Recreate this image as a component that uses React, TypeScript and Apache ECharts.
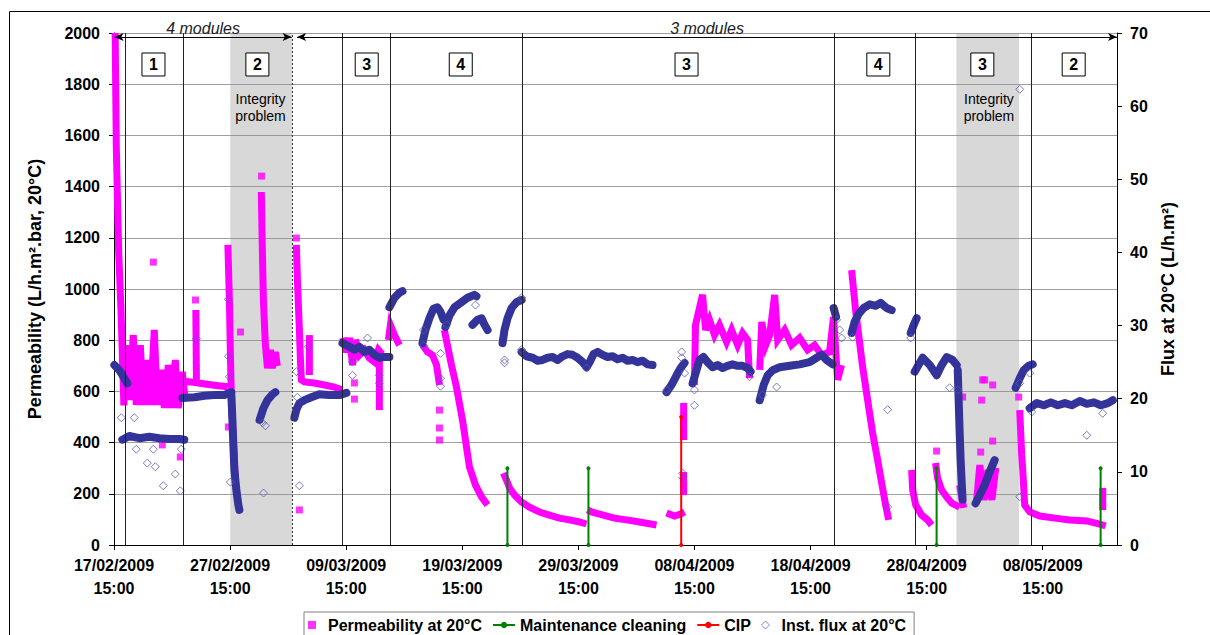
import React, { useEffect, useRef } from 'react';
import * as echarts from 'echarts';

// x values are days since 17/02/2009 15:00
const xTickLabels = [
  '17/02/2009\n15:00', '27/02/2009\n15:00', '09/03/2009\n15:00', '19/03/2009\n15:00',
  '29/03/2009\n15:00', '08/04/2009\n15:00', '18/04/2009\n15:00', '28/04/2009\n15:00', '08/05/2009\n15:00',
];
const xMaxDays = 86.4;

// Permeability at 20°C — dense runs of logged points (day, L/h.m².bar)
const permRuns: number[][][] = [
  [[0.1, 2000], [0.2, 1550], [0.4, 1150], [0.6, 920], [0.75, 700], [0.85, 545], [1.06, 781], [1.32, 566], [1.66, 820], [1.92, 547], [2.27, 781], [2.52, 547], [2.87, 723], [3.13, 547], [3.47, 840], [3.73, 547], [4.08, 684], [4.34, 535], [4.68, 703], [4.94, 535], [5.28, 723], [5.54, 535], [5.88, 676], [6.14, 566]],
  [[6.0, 640], [7.0, 635], [8.0, 628], [9.0, 622], [9.8, 618]],
  [[7.05, 918], [7.1, 645]],
  [[9.81, 1172], [9.94, 957], [10.02, 762], [10.11, 566], [10.28, 410], [10.45, 254]],
  [[12.69, 1379], [12.78, 1152], [12.87, 957], [13.04, 781], [13.22, 691], [13.48, 762], [13.64, 691], [13.9, 754], [14.07, 699]],
  [[15.71, 1172], [15.8, 1035], [15.97, 840], [16.06, 723], [16.14, 645], [16.4, 637], [17.26, 633], [18.12, 625], [18.98, 617], [19.67, 605]],
  [[16.83, 820], [16.83, 664]],
  [[19.7, 809], [20.04, 754], [20.3, 809], [20.55, 703], [20.81, 801], [21.14, 742], [21.57, 762], [22.0, 730], [22.43, 715], [22.78, 762], [23.1, 745]],
  [[22.86, 723], [22.86, 527]],
  [[23.64, 801], [23.81, 859], [24.16, 820], [24.59, 781]],
  [[26.57, 781], [27.0, 754], [27.43, 742], [27.78, 703], [28.04, 625]],
  [[28.46, 840], [28.72, 781], [29.07, 703], [29.5, 617], [30.02, 488], [30.62, 305], [31.14, 234], [31.66, 188], [32.17, 156]],
  [[33.55, 281], [33.81, 254], [34.07, 223], [34.5, 195], [35.1, 168], [35.79, 148], [36.65, 129], [37.51, 117], [38.37, 105], [39.24, 98], [40.1, 90], [40.7, 82]],
  [[40.79, 137], [41.13, 129], [41.82, 121], [43.11, 105], [44.15, 98], [45.27, 90], [46.73, 78]],
  [[47.6, 125], [48.29, 113], [48.8, 121], [49.15, 129]],
  [[49.07, 555], [49.07, 410]],
  [[49.07, 285], [49.07, 195]],
  [[50.0, 625], [50.09, 859], [50.7, 977], [50.96, 840], [51.3, 879], [51.73, 820], [52.16, 859], [52.77, 793], [53.2, 840], [53.72, 781], [54.15, 828], [54.58, 801], [54.75, 652]],
  [[55.62, 684], [55.8, 871], [56.14, 781], [56.48, 820], [56.91, 977], [57.17, 801], [57.77, 840], [58.37, 781], [59.06, 809], [59.75, 762], [60.35, 781], [60.95, 742], [61.64, 754], [61.98, 890], [62.33, 645], [62.67, 703]],
  [[63.54, 1074], [63.88, 918], [64.49, 695], [64.92, 566], [65.35, 437], [65.78, 332], [66.13, 242], [66.47, 156], [66.73, 98]],
  [[68.71, 293], [68.8, 215], [69.06, 156], [69.57, 117], [70.09, 98], [70.43, 78]],
  [[70.77, 320], [70.94, 262], [71.29, 215], [71.72, 188], [72.15, 164], [72.84, 148]],
  [[72.84, 234], [73.19, 145]],
  [[74.32, 176], [74.58, 312], [74.93, 176], [75.28, 293], [75.62, 176], [75.96, 301]],
  [[78.02, 527], [78.19, 352], [78.28, 293], [78.45, 156], [78.89, 129], [79.75, 113], [81.04, 105], [82.33, 98], [83.8, 94], [84.9, 82], [85.42, 74]],
  [[85.17, 223], [85.17, 137]],
];

// Permeability — isolated points
const permPoints: number[][] = [
  [3.39, 1105], [4.16, 391], [5.71, 344], [7.02, 957], [9.85, 461], [10.9, 832], [12.71, 1441],
  [15.71, 1199], [15.97, 137], [20.71, 633], [20.71, 570], [28.04, 527], [28.04, 457], [28.04, 410],
  [70.86, 367], [73.1, 578], [74.83, 645], [75.0, 645], [75.69, 625], [74.74, 566], [75.69, 406],
  [74.66, 363], [77.93, 578],
];

// Inst. flux at 20°C — dense runs (day, L/h.m²)
const fluxRuns: number[][][] = [
  [[0.03, 24.6], [0.46, 23.9], [0.89, 22.8], [1.15, 22.1]],
  [[0.72, 14.4], [1.32, 14.9], [2.18, 14.6], [3.04, 14.8], [3.9, 14.6], [4.77, 14.5], [5.63, 14.5], [6.06, 14.4]],
  [[5.9, 20.1], [6.94, 20.2], [7.78, 20.4], [8.64, 20.5], [9.5, 20.5], [10.11, 20.9]],
  [[10.11, 20.5], [10.2, 17.1], [10.28, 13.7], [10.37, 10.3], [10.54, 7.5], [10.71, 5.5], [10.8, 4.8]],
  [[12.54, 17.1], [12.87, 18.7], [13.22, 19.8], [13.65, 20.6], [13.9, 20.9]],
  [[15.54, 17.4], [15.71, 18.5], [15.97, 19.4], [16.4, 19.8], [17.0, 20.2], [17.69, 20.6], [18.55, 20.5], [19.41, 20.5], [20.02, 20.8]],
  [[19.68, 27.6], [20.28, 27.1], [20.71, 26.7], [21.14, 27.1], [21.57, 26.4], [22.0, 26.7], [22.43, 26.0], [22.86, 25.6], [23.29, 25.7], [23.72, 25.7]],
  [[23.72, 32.5], [24.16, 33.8], [24.59, 34.5], [24.85, 34.7]],
  [[26.57, 27.6], [26.83, 29.4], [27.17, 31.0], [27.52, 32.3], [27.86, 32.5], [28.12, 31.9], [28.38, 30.8]],
  [[28.55, 29.8], [28.9, 31.4], [29.33, 32.5], [29.93, 33.2], [30.45, 33.8], [31.05, 34.2], [31.22, 34.0]],
  [[30.88, 30.1], [31.31, 30.8], [31.66, 31.0], [31.92, 30.1], [32.18, 29.4]],
  [[33.47, 27.6], [33.64, 29.4], [33.9, 31.0], [34.25, 32.4], [34.68, 33.2], [35.11, 33.5]],
  [[35.11, 26.4], [35.54, 25.8], [36.06, 25.6], [36.49, 25.2], [36.92, 25.3], [37.35, 25.6], [37.78, 25.7], [38.21, 25.3], [38.64, 25.8], [39.07, 26.1], [39.5, 26.0], [39.93, 25.6], [40.37, 25.0], [40.71, 24.3], [40.97, 25.0], [41.31, 26.1], [41.66, 26.4], [42.09, 26.0], [42.52, 25.7], [42.95, 25.8], [43.38, 25.4], [43.81, 25.6], [44.24, 25.2], [44.67, 25.3], [45.1, 25.0], [45.53, 25.2], [45.96, 24.7], [46.39, 24.6]],
  [[47.6, 20.9], [48.03, 21.9], [48.46, 23.2], [48.81, 24.2], [49.15, 24.9]],
  [[49.84, 22.1], [50.18, 23.9], [50.44, 25.3], [50.78, 25.7], [51.13, 25.0], [51.56, 24.3], [51.99, 24.6], [52.42, 24.2], [52.85, 24.5], [53.28, 24.7], [53.72, 24.5], [54.15, 24.5], [54.58, 24.2], [54.84, 23.7]],
  [[55.62, 19.8], [55.97, 21.9], [56.31, 23.2], [56.74, 23.9], [57.34, 24.3], [58.2, 24.5], [59.06, 24.7], [59.92, 25.0], [60.52, 25.6], [60.95, 26.0], [61.38, 25.3], [61.9, 24.7]],
  [[61.99, 32.4], [62.2, 31.2]],
  [[63.54, 29.0], [63.8, 30.5], [64.15, 31.6], [64.58, 32.4], [65.1, 32.9], [65.61, 32.7], [66.04, 33.1], [66.56, 32.4], [66.99, 32.1]],
  [[68.63, 29.0], [68.89, 30.1], [69.14, 31.0]],
  [[68.97, 23.7], [69.66, 25.6], [70.27, 24.6], [70.87, 23.2], [71.3, 24.6], [71.73, 25.7], [72.24, 25.3], [72.59, 24.6]],
  [[72.68, 23.9], [72.76, 19.8], [72.84, 15.7], [72.93, 11.6], [73.01, 8.9], [73.1, 6.2]],
  [[74.22, 5.7], [74.57, 6.8], [75.0, 8.2], [75.43, 10.0], [75.86, 11.6]],
  [[77.67, 21.5], [78.02, 22.8], [78.36, 23.9], [78.79, 24.5], [79.14, 24.7]],
  [[78.88, 18.7], [79.49, 19.4], [80.09, 19.1], [80.7, 19.5], [81.3, 19.1], [81.91, 19.4], [82.51, 19.1], [83.2, 19.7], [83.8, 19.3], [84.41, 19.5], [85.01, 19.1], [85.61, 19.4], [86.04, 19.8]],
];

// Inst. flux — isolated points
const fluxPoints: number[][] = [
  [0.63, 17.4], [1.75, 17.4], [1.92, 13.1], [2.87, 11.2], [3.39, 13.1], [3.56, 10.7], [4.25, 8.1], [5.28, 9.7],
  [5.71, 7.4], [5.8, 13.1], [7.1, 28.2], [9.85, 33.6], [9.85, 25.8], [9.94, 23.0], [10.02, 8.6], [12.79, 16.7],
  [13.04, 16.3], [12.88, 7.1], [15.8, 20.2], [15.71, 23.7], [15.97, 8.1], [16.75, 27.1], [20.54, 25.0],
  [20.54, 23.2], [21.84, 28.3], [22.86, 23.2], [22.86, 22.1], [26.66, 29.4], [26.66, 27.3], [28.13, 26.2],
  [28.13, 22.8], [28.13, 21.7], [28.65, 30.1], [31.14, 32.8], [33.64, 24.9], [33.64, 25.3], [35.11, 33.8],
  [35.11, 26.7], [40.7, 24.2], [47.6, 21.2], [48.9, 26.4], [48.9, 25.6], [49.15, 23.5], [49.0, 9.8], [49.0, 9.2],
  [50.0, 21.2], [50.0, 19.1], [54.75, 23.0], [55.86, 20.5], [57.08, 21.6], [62.25, 30.8], [62.51, 29.4],
  [62.68, 28.3], [63.63, 28.4], [66.64, 18.5], [66.64, 5.2], [68.63, 28.3], [71.98, 21.5], [72.68, 21.2],
  [78.02, 62.3], [78.02, 22.1], [78.02, 6.6], [78.88, 23.5], [79.05, 18.2], [83.8, 15.0], [85.17, 18.0],
];

const cleaningDays = [33.89, 40.87, 70.86, 84.99];
const cleaningHeights = [300, 300, 300, 300];
const cipDays = [48.86];
const cipHeights = [500];

const moduleLineDays = [0.97, 5.97, 19.7, 23.78, 35.21, 62.07, 69.05, 79.02];
const moduleChangeDay = 15.34;
const integrityAreas = [[10.02, 15.34], [72.56, 77.96]];
const integrityLabelDays = [12.62, 75.37];
const moduleBoxDays = [3.4, 12.35, 21.77, 29.87, 49.32, 65.84, 74.8, 82.67];
const moduleBoxLabels = ['1', '2', '3', '4', '3', '4', '3', '2'];
const moduleSpans = [
  { name: '4 modules', from: 0.05, to: 15.3 },
  { name: '3 modules', from: 15.77, to: 86.4 },
];

const FONT = '"Liberation Sans", Arial, sans-serif';
const MAGENTA = '#ff00ff';
const NAVY = '#333399';

function buildOption(): any {
  const series: any[] = [];
  permRuns.forEach((run, i) => {
    series.push({
      type: 'line', name: 'perm-run-' + i, data: run, yAxisIndex: 0, symbol: 'none', silent: true,
      lineStyle: { color: MAGENTA, width: 7, cap: 'butt', join: 'miter' }, itemStyle: { color: MAGENTA }, z: 2,
    });
  });
  series.push({
    type: 'scatter', name: 'Permeability at 20°C', data: permPoints, yAxisIndex: 0,
    symbol: 'rect', symbolSize: 7, itemStyle: { color: MAGENTA }, z: 2, silent: true,
  });
  fluxRuns.forEach((run, i) => {
    series.push({
      type: 'line', name: 'flux-run-' + i, data: run, yAxisIndex: 1, symbol: 'none', silent: true,
      lineStyle: { color: NAVY, width: 8, cap: 'round', join: 'round' }, itemStyle: { color: NAVY }, z: 3,
    });
  });
  series.push({
    type: 'scatter', name: 'Inst. flux at 20°C', data: fluxPoints, yAxisIndex: 1,
    symbol: 'diamond', symbolSize: 8,
    itemStyle: { color: 'rgba(0,0,0,0)', borderColor: '#5a5ab4', borderWidth: 1 }, z: 3, silent: true,
  });
  cleaningDays.forEach((d, i) => {
    series.push({
      type: 'line', name: 'Maintenance cleaning', data: [[d, 0], [d, cleaningHeights[i]]], yAxisIndex: 0,
      symbol: 'circle', symbolSize: 4, lineStyle: { color: '#008000', width: 2 }, itemStyle: { color: '#008000' }, z: 4, silent: true,
    });
  });
  cipDays.forEach((d, i) => {
    series.push({
      type: 'line', name: 'CIP', data: [[d, 0], [d, cipHeights[i]]], yAxisIndex: 0,
      symbol: 'circle', symbolSize: 4, lineStyle: { color: '#ff0000', width: 2 }, itemStyle: { color: '#ff0000' }, z: 4, silent: true,
    });
  });
  // annotation: vertical module lines + shaded integrity periods + boxes
  series.push({
    type: 'line', name: 'annot-lines', data: [], yAxisIndex: 0, z: 5, silent: true,
    markLine: {
      silent: true, symbol: 'none', animation: false,
      label: { show: false },
      data: [
        ...moduleLineDays.map((d) => ({ xAxis: d, lineStyle: { color: '#222', width: 1, type: 'solid' } })),
        { xAxis: moduleChangeDay, lineStyle: { color: '#333', width: 1, type: [2, 2] } },
      ],
    },
    markArea: {
      silent: true,
      itemStyle: { color: 'rgba(140,140,140,0.34)' },
      data: integrityAreas.map(([a, b]) => [{ xAxis: a }, { xAxis: b }]),
    },
    markPoint: {
      silent: true, symbol: 'rect', symbolSize: [23, 23],
      itemStyle: { color: '#fff', borderColor: '#000', borderWidth: 1 },
      label: { show: true, position: 'inside', formatter: '{c}', fontFamily: FONT, fontWeight: 'bold', fontSize: 16, color: '#000' },
      data: moduleBoxDays.map((d, i) => ({ coord: [d, 1877], value: moduleBoxLabels[i] })),
    },
  });
  series.push({
    type: 'line', name: 'annot-text', data: [], yAxisIndex: 0, z: 6, silent: true,
    markPoint: {
      silent: true, symbol: 'rect', symbolSize: [1, 1],
      itemStyle: { color: 'rgba(0,0,0,0)' },
      label: { show: true, position: 'inside', formatter: '{b}', fontFamily: FONT, fontSize: 14, lineHeight: 17, color: '#000' },
      data: integrityLabelDays.map((d) => ({ coord: [d, 1709], name: 'Integrity\nproblem' })),
    },
  });
  series.push({
    type: 'line', name: 'annot-arrows', data: [], yAxisIndex: 0, z: 6, silent: true,
    markLine: {
      silent: true, symbol: ['arrow', 'arrow'], symbolSize: [6, 9],
      lineStyle: { color: '#000', width: 1, type: 'solid' },
      label: { show: true, position: 'insideMiddleTop', distance: 1, formatter: '{b}', fontFamily: FONT, fontStyle: 'italic', fontSize: 16, color: '#222' },
      data: moduleSpans.map((s) => [{ coord: [s.from, 1984], name: s.name }, { coord: [s.to, 1984] }]),
    },
  });

  const axisLabelStyle = { fontFamily: FONT, fontWeight: 'bold', fontSize: 16, color: '#000' };

  return {
    animation: false,
    backgroundColor: '#fff',
    grid: { left: 114, top: 33, width: 1003, height: 512, containLabel: false },
    xAxis: {
      type: 'value', min: 0, max: xMaxDays, interval: 10,
      axisLine: { show: true, lineStyle: { color: '#000', width: 1 } },
      axisTick: { show: true, length: 5, lineStyle: { color: '#000' } },
      splitLine: { show: false },
      axisLabel: {
        ...axisLabelStyle, margin: 9, lineHeight: 23, showMaxLabel: false,
        formatter: (v: number) => {
          const i = Math.round(v / 10);
          return Math.abs(v - i * 10) < 1e-6 && xTickLabels[i] ? xTickLabels[i] : '';
        },
      },
    },
    yAxis: [
      {
        type: 'value', min: 0, max: 2000, interval: 200, position: 'left',
        name: 'Permeability (L/h.m².bar, 20°C)', nameLocation: 'middle', nameGap: 70,
        nameTextStyle: { fontFamily: FONT, fontWeight: 'bold', fontSize: 18, color: '#000' },
        axisLine: { show: true, lineStyle: { color: '#000', width: 1 } },
        axisTick: { show: true, length: 5, lineStyle: { color: '#000' } },
        splitLine: { show: true, lineStyle: { color: '#a0a0a0', width: 1 } },
        axisLabel: { ...axisLabelStyle, margin: 14, formatter: (v: number) => String(v) },
      },
      {
        type: 'value', min: 0, max: 70, interval: 10, position: 'right',
        name: 'Flux at 20°C (L/h.m²)', nameLocation: 'middle', nameGap: 40,
        nameTextStyle: { fontFamily: FONT, fontWeight: 'bold', fontSize: 18, color: '#000' },
        axisLine: { show: true, lineStyle: { color: '#000', width: 1 } },
        axisTick: { show: true, length: 5, lineStyle: { color: '#000' } },
        splitLine: { show: false },
        axisLabel: { ...axisLabelStyle, margin: 13, formatter: (v: number) => String(v) },
      },
    ],
    legend: {
      left: 304, top: 612, orient: 'horizontal',
      padding: [5, 8, 5, 4], itemGap: 10, itemWidth: 22, itemHeight: 8,
      borderColor: '#808080', borderWidth: 1, backgroundColor: '#fff',
      textStyle: { fontFamily: FONT, fontWeight: 'bold', fontSize: 16, color: '#000' },
      selectedMode: false,
      data: [
        { name: 'Permeability at 20°C', icon: 'path://M0,0H10V10H0Z', itemStyle: { color: MAGENTA } },
        { name: 'Maintenance cleaning' },
        { name: 'CIP' },
        { name: 'Inst. flux at 20°C', icon: 'path://M5,0L10,5L5,10L0,5Z', itemStyle: { color: 'rgba(0,0,0,0)', borderColor: '#6a6acc', borderWidth: 1 } },
      ],
    },
    graphic: [
      { type: 'rect', silent: true, z: -10, shape: { x: 9.5, y: 11.5, width: 1230, height: 650 }, style: { fill: 'none', stroke: '#000', lineWidth: 1 } },
    ],
    series,
  };
}

export default function App() {
  const ref = useRef<HTMLDivElement>(null);
  useEffect(() => {
    if (!ref.current) return;
    const chart = echarts.init(ref.current, null, { renderer: 'svg' });
    chart.setOption(buildOption());
    return () => chart.dispose();
  }, []);
  return (
    <div
      ref={ref}
      style={{ position: 'absolute', left: 0, top: 0, width: 1210, height: 635, background: '#fff' }}
    />
  );
}
